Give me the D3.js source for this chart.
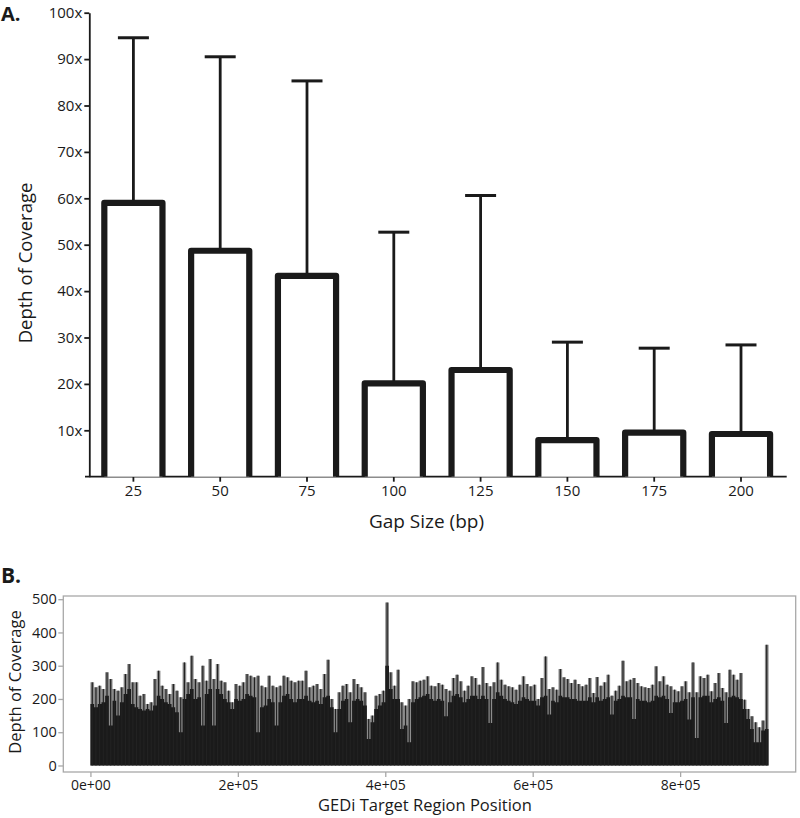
<!DOCTYPE html>
<html><head><meta charset="utf-8">
<script src="https://cdn.jsdelivr.net/npm/d3@7"></script>
<style>
body{margin:0;background:#fff}
svg{display:block}
text{font-family:"Open Sans",sans-serif;fill:#1a1a1a}
</style>
</head><body><svg id="c" width="800" height="818"></svg>
<script>
// ---------- Panel A data ----------
const gapSizes = ["25","50","75","100","125","150","175","200"];
const meanDepth = [59.0, 48.7, 43.3, 20.1, 23.0, 7.9, 9.5, 9.2];
const upperDepth = [94.6, 90.5, 85.3, 52.7, 60.6, 29.0, 27.7, 28.4];
const depthTicks = [10,20,30,40,50,60,70,80,90,100];
const depthTickLabels = ["10x","20x","30x","40x","50x","60x","70x","80x","90x","100x"];

// ---------- Panel B data (5 kb bins along target region) ----------
const binSize = 5000;
const peakDepth = [
250,235,240,230,280,260,230,225,235,275,
305,250,250,210,215,185,190,260,285,240,
230,215,245,225,205,310,250,330,260,250,
300,255,320,260,305,255,250,225,190,245,
240,250,275,270,265,270,240,235,270,240,
235,240,270,265,255,250,255,255,285,235,
240,245,230,275,318,200,170,220,240,245,
220,260,245,235,220,140,150,210,215,225,
490,280,240,288,190,180,200,253,250,255,
258,268,240,238,248,243,230,225,263,273,
253,225,240,268,263,243,296,248,238,250,
310,258,243,238,235,228,243,268,245,238,
243,200,263,328,230,235,228,290,265,260,
248,258,245,238,243,263,218,266,240,250,
273,210,225,240,315,253,258,263,248,238,
235,233,243,298,253,268,243,238,228,223,
238,253,220,310,220,268,263,273,223,248,
278,233,220,288,273,258,278,198,170,148,
130,115,135,363];
const baseDepth = [
185,175,185,190,210,120,195,150,190,215,
230,185,175,170,165,170,165,180,210,200,
190,185,175,160,100,200,215,230,200,205,
120,215,230,120,230,215,200,190,170,200,
195,200,215,210,205,100,175,180,200,190,
120,190,210,215,200,190,200,200,210,195,
190,195,185,205,210,175,100,170,195,200,
130,195,200,195,180,80,130,170,180,190,
300,230,200,200,110,120,70,190,200,205,
210,215,200,195,200,195,148,190,210,215,
205,190,200,210,210,200,210,200,128,200,
220,210,200,195,190,185,195,205,200,195,
195,180,205,210,153,195,190,210,205,205,
200,200,195,195,195,205,190,205,195,200,
205,153,195,200,210,205,205,140,200,195,
195,190,195,210,205,210,200,158,190,190,
195,200,138,205,83,205,210,210,190,200,
205,195,128,205,210,205,200,170,140,110,
70,70,105,110];
const positionTicks = [0, 200000, 400000, 600000, 800000];
const positionTickLabels = ["0e+00","2e+05","4e+05","6e+05","8e+05"];
const coverageTicks = [0,100,200,300,400,500];

const ink = "#1a1a1a";
const svg = d3.select("#c");

// ================= Panel A =================
const gA = svg.append("g");
gA.append("text").attr("x",1).attr("y",21).attr("font-size",20).attr("font-weight","bold").text("A.");

const xA = d3.scaleBand().domain(gapSizes).range([90, 784.4]).paddingInner(0.33).paddingOuter(0.165);
const yA = d3.scaleLinear().domain([0,100]).range([476.7, 12.7]);

// y axis
const yAxisA = d3.axisLeft(yA).tickValues(depthTicks).tickSize(5).tickSizeOuter(0).tickPadding(2)
  .tickFormat((d,i)=>depthTickLabels[i]);
const gyA = gA.append("g").attr("transform","translate(89.3,0)").call(yAxisA);
gyA.select(".domain").attr("stroke",ink).attr("stroke-width",1.8);
gyA.selectAll(".tick line").attr("stroke",ink).attr("stroke-width",1.8);
gyA.selectAll(".tick text").attr("font-size",15).attr("font-family","'Open Sans',sans-serif").attr("fill",ink);

// x axis
gA.append("line").attr("x1",85).attr("x2",786.7).attr("y1",yA(0)).attr("y2",yA(0)).attr("stroke",ink).attr("stroke-width",1.8);
const xAxisA = d3.axisBottom(xA).tickSize(5).tickPadding(4);
const gxA = gA.append("g").attr("transform",`translate(0,${yA(0)})`).call(xAxisA);
gxA.select(".domain").remove();
gxA.selectAll(".tick line").attr("stroke",ink).attr("stroke-width",1.8);
gxA.selectAll(".tick text").attr("font-size",15).attr("font-family","'Open Sans',sans-serif").attr("fill",ink);

const barsA = gapSizes.map((g,i)=>({g, mean:meanDepth[i], upper:upperDepth[i]}));
// whiskers
barsA.forEach(d=>{
  const cx = xA(d.g) + xA.bandwidth()/2;
  gA.append("line").attr("x1",cx).attr("x2",cx).attr("y1",yA(d.mean)).attr("y2",yA(d.upper))
    .attr("stroke",ink).attr("stroke-width",2.8);
  gA.append("line").attr("x1",cx-15.5).attr("x2",cx+15.5).attr("y1",yA(d.upper)).attr("y2",yA(d.upper))
    .attr("stroke",ink).attr("stroke-width",3);
});
// bars (open at the bottom)
gA.selectAll("path.bar").data(barsA).join("path").attr("class","bar")
  .attr("d",d=>{
    const x0 = xA(d.g), x1 = x0 + xA.bandwidth();
    return `M${x0},${yA(0)}L${x0},${yA(d.mean)}L${x1},${yA(d.mean)}L${x1},${yA(0)}`;
  })
  .attr("fill","#fff").attr("stroke",ink).attr("stroke-width",6.2).attr("stroke-linejoin","round");

gA.append("text").attr("transform","translate(32,263) rotate(-90)").attr("text-anchor","middle")
  .attr("font-size",18.5).text("Depth of Coverage");
gA.append("text").attr("x",426.5).attr("y",528).attr("text-anchor","middle")
  .attr("font-size",19).text("Gap Size (bp)");

// ================= Panel B =================
const gB = svg.append("g");
gB.append("text").attr("x",1).attr("y",583).attr("font-size",21).attr("font-weight","bold").text("B.");

const nBins = peakDepth.length;
const cov = peakDepth.map((p,i)=>({pos:i*binSize, peak:p, base:baseDepth[i]}));
const xMax = nBins*binSize, xPad = 0.04*xMax;
const yMax = d3.max(peakDepth), yPad = 0.04*yMax;
const xB = d3.scaleLinear().domain([-xPad, xMax + xPad]).range([63.3, 795.7]);
const yB = d3.scaleLinear().domain([-yPad, yMax + yPad]).range([772, 596]);

const stepPts = cov.concat([{pos:xMax, peak:peakDepth[nBins-1], base:baseDepth[nBins-1]}]);
// envelope of the dense spikes
gB.append("path").datum(stepPts)
  .attr("d", d3.area().curve(d3.curveStepAfter).x(d=>xB(d.pos)).y0(yB(0)).y1(d=>yB(d.peak)))
  .attr("fill","#8c8c8c");
// body (step area)
gB.append("path").datum(stepPts)
  .attr("d", d3.area().curve(d3.curveStepAfter).x(d=>xB(d.pos)).y0(yB(0)).y1(d=>yB(d.base)))
  .attr("fill",ink);
// thin spikes
gB.selectAll("rect.spike").data(cov).join("rect").attr("class","spike")
  .attr("x",d=>xB(d.pos + binSize/2)-0.6).attr("width",1.2)
  .attr("y",d=>yB(d.peak)).attr("height",d=>yB(0)-yB(d.peak))
  .attr("fill","#222");

// box
gB.append("rect").attr("x",63.3).attr("y",596).attr("width",795.7-63.3).attr("height",772-596)
  .attr("fill","none").attr("stroke","#a8a8a8").attr("stroke-width",1.3);

const yAxisB = d3.axisLeft(yB).tickValues(coverageTicks).tickSize(5).tickSizeOuter(0).tickPadding(1.5);
const gyB = gB.append("g").attr("transform","translate(63.3,0)").call(yAxisB);
gyB.select(".domain").remove();
gyB.selectAll(".tick line").attr("stroke","#a8a8a8").attr("stroke-width",1.3);
gyB.selectAll(".tick text").attr("font-size",14.5).attr("font-family","'Open Sans',sans-serif").attr("fill",ink);

const xAxisB = d3.axisBottom(xB).tickValues(positionTicks).tickSize(5).tickSizeOuter(0).tickPadding(3)
  .tickFormat((d,i)=>positionTickLabels[i]);
const gxB = gB.append("g").attr("transform","translate(0,772)").call(xAxisB);
gxB.select(".domain").remove();
gxB.selectAll(".tick line").attr("stroke","#a8a8a8").attr("stroke-width",1.3);
gxB.selectAll(".tick text").attr("font-size",14).attr("font-family","'Open Sans',sans-serif").attr("fill",ink);

gB.append("text").attr("transform","translate(21,682) rotate(-90)").attr("text-anchor","middle")
  .attr("font-size",16.5).text("Depth of Coverage");
gB.append("text").attr("x",425).attr("y",811).attr("text-anchor","middle")
  .attr("font-size",16.5).text("GEDi Target Region Position");
</script>
</body></html>
